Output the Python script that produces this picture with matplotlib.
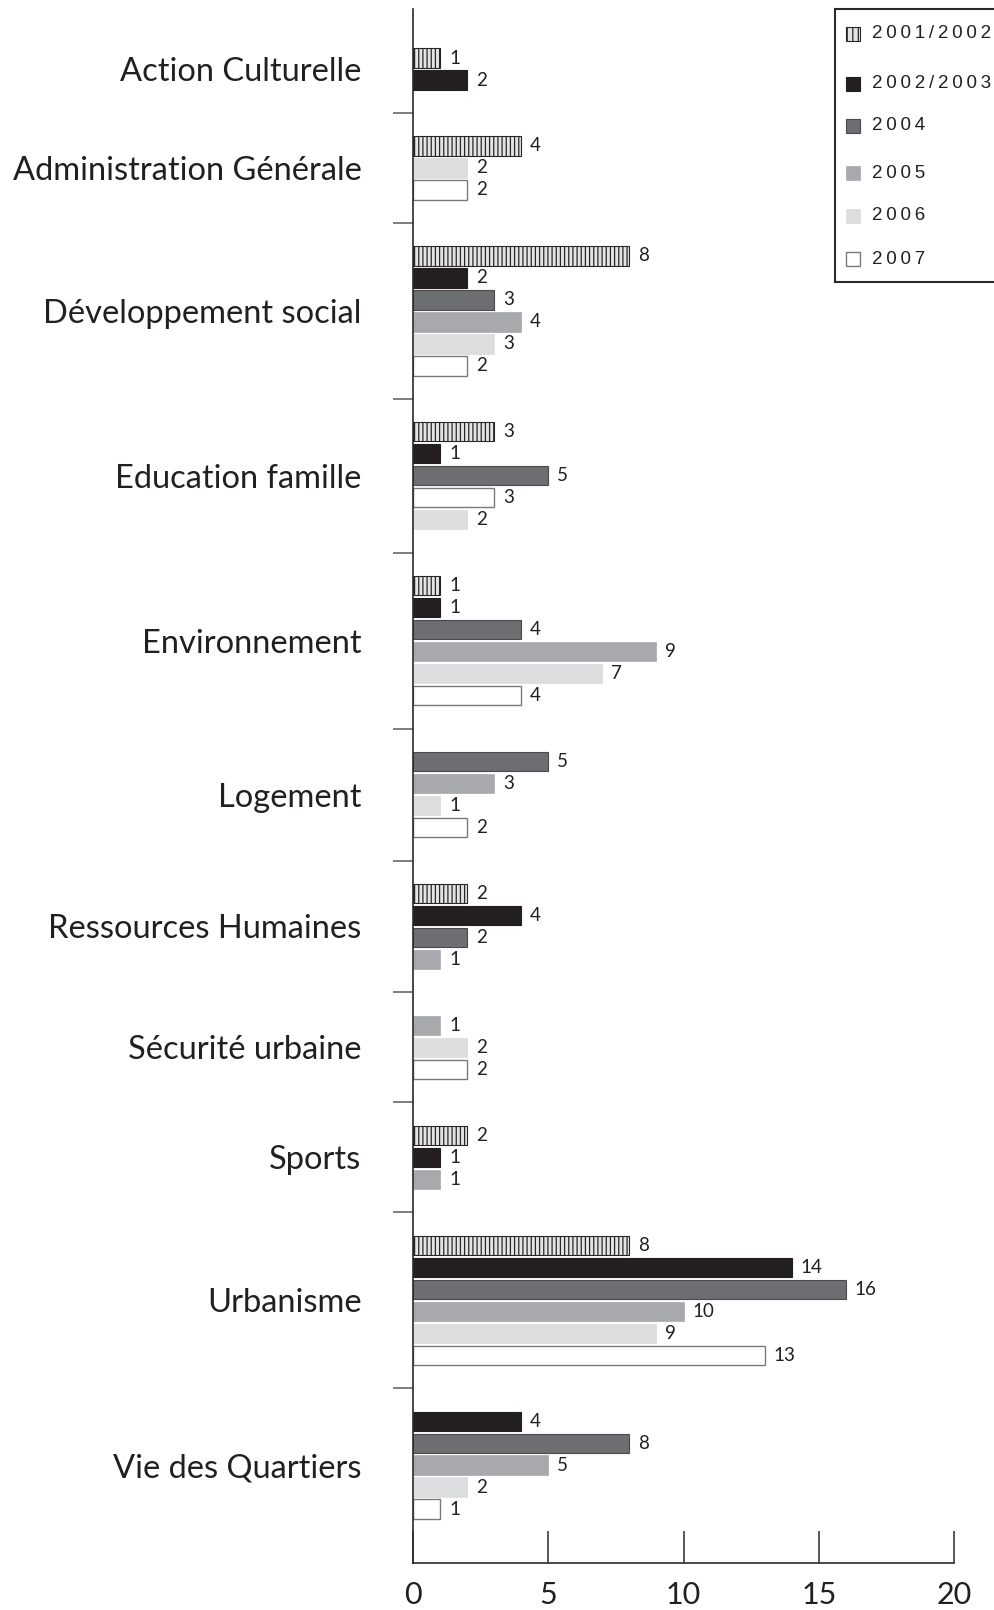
import matplotlib
matplotlib.use("Agg")
import matplotlib.pyplot as plt
from matplotlib.patches import Rectangle

# Data: number of items per service and period
categories = ["Action Culturelle", "Administration Générale", "Développement social",
              "Education famille", "Environnement", "Logement", "Ressources Humaines",
              "Sécurité urbaine", "Sports", "Urbanisme", "Vie des Quartiers"]
series = ["2001/2002", "2002/2003", "2004", "2005", "2006", "2007"]

v2001 = [1, 4, 8, 3, 1, 0, 2, 0, 2, 8, 0]
v2002 = [2, 0, 2, 1, 1, 0, 4, 0, 1, 14, 4]
v2004 = [0, 0, 3, 5, 4, 5, 2, 0, 0, 16, 8]
v2005 = [0, 0, 4, 0, 9, 3, 1, 1, 1, 10, 5]
v2006 = [0, 2, 3, 2, 7, 1, 0, 2, 0, 9, 2]
v2007 = [0, 2, 2, 3, 4, 2, 0, 2, 0, 13, 1]
values = [v2001, v2002, v2004, v2005, v2006, v2007]

# Education famille lists 2007 before 2006
bar_order = {3: [0, 1, 2, 5, 4]}

x_ticks = [0, 5, 10, 15, 20]

# bar styles per series
styles = [
    dict(facecolor="#e4e4e4", edgecolor="#262626", hatch="||||", linewidth=0.8),
    dict(facecolor="#231f20", edgecolor="#231f20", linewidth=0.8),
    dict(facecolor="#6d6e71", edgecolor="#4a4a4c", linewidth=0.8),
    dict(facecolor="#a7a9ac", edgecolor="#a7a9ac", linewidth=0.5),
    dict(facecolor="#dcddde", edgecolor="#dcddde", linewidth=0.5),
    dict(facecolor="white", edgecolor="#7a7a7a", linewidth=1.0),
]

plt.rcParams["hatch.linewidth"] = 0.9
label_font = "Lato"

fig = plt.figure(figsize=(9.95, 16.1), dpi=100)
ax = fig.add_axes([413 / 995, 1 - 1563 / 1610, 541 / 995, 1554 / 1610])

top_margin = 0.73
bottom_margin = 0.95
bar_h = 0.88

pos = 0.0
boundaries = []
centers = []
for i, cat in enumerate(categories):
    order = bar_order.get(i, range(len(series)))
    present = [s for s in order if values[s][i] > 0]
    n = len(present)
    for k, s in enumerate(present):
        y = pos + 1.5 + k
        v = values[s][i]
        ax.barh(y, v, height=bar_h, **styles[s])
        ax.annotate(str(v), (v, y), xytext=(6.5, 0), textcoords="offset points",
                    va="center", ha="left", fontsize=13.5, family=label_font,
                    color="#231f20")
    centers.append(pos + (n + 2) / 2)
    pos += n + 2
    boundaries.append(pos)

ax.set_xlim(0, 20)
ax.set_ylim(pos + bottom_margin, -top_margin)

for side in ["top", "right"]:
    ax.spines[side].set_visible(False)
ax.spines["left"].set_color("#2a2a2a")
ax.spines["left"].set_linewidth(1.2)
ax.spines["bottom"].set_color("#2a2a2a")
ax.spines["bottom"].set_linewidth(1.2)

# group separators as major ticks, service names as minor tick labels
ax.set_yticks(boundaries[:-1])
ax.set_yticklabels([])
ax.set_yticks(centers, minor=True)
ax.set_yticklabels(categories, minor=True, fontsize=23.5, family=label_font,
                   color="#231f20")
ax.tick_params(axis="y", which="major", direction="out", length=14.4, width=1.1,
               color="#5a5a5a")
ax.tick_params(axis="y", which="minor", length=0, pad=37)

ax.set_xticks(x_ticks)
ax.set_xticklabels([str(t) for t in x_ticks], fontsize=22, family=label_font,
                   color="#231f20")
ax.tick_params(axis="x", direction="in", length=23, width=1.1, color="#2a2a2a", pad=13)

# legend box drawn in pixel coordinates
lg = fig.add_axes([0, 0, 1, 1], zorder=5)
lg.set_xlim(0, 995)
lg.set_ylim(1610, 0)
lg.axis("off")
lg.add_patch(Rectangle((835, 9), 200, 273, facecolor="white", edgecolor="#2a2a2a",
                       linewidth=1.5))
legend_y = [34, 84, 126, 173, 216, 259]
for s, name in enumerate(series):
    st = dict(styles[s])
    if s == 0:
        st["hatch"] = "|||"
    lg.add_patch(Rectangle((846, legend_y[s] - 7), 14, 14, **st))
    lg.text(872, legend_y[s], "\u2009".join(name), va="center", ha="left",
            fontsize=13.5, family=["Liberation Sans", "DejaVu Sans"], color="#231f20")

fig.savefig("out.png", dpi=100)
